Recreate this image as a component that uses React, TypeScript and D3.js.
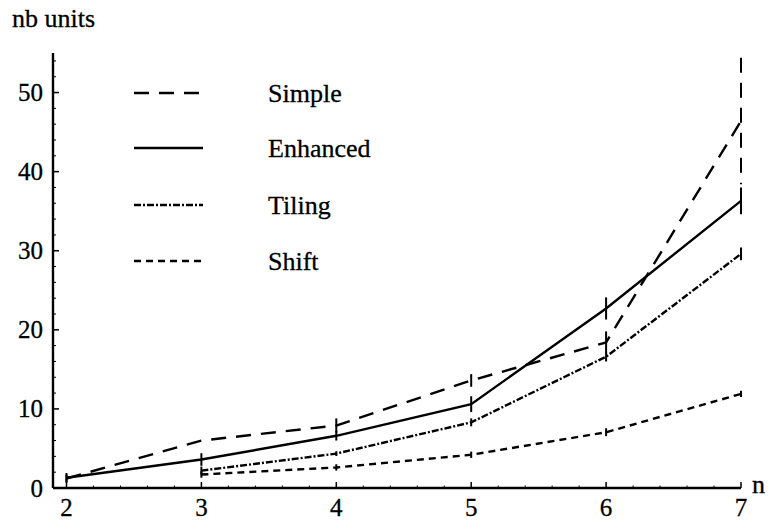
import React from "react";
import * as d3 from "d3";

const xTicks = [2, 3, 4, 5, 6, 7];
const yTicks = [0, 10, 20, 30, 40, 50];

const simpleX = [2, 3, 4, 5, 6, 7];
const simpleY = [1.2, 6.0, 7.9, 13.6, 18.4, 46.4];
const simpleErr = [0.5, 0, 0.9, 0.8, 1.4, 8.0];

const enhancedX = [2, 3, 4, 5, 6, 7];
const enhancedY = [1.3, 3.6, 6.6, 10.6, 22.7, 36.3];
const enhancedErr = [0.6, 0.8, 0.6, 1.0, 1.4, 1.7];

const tilingX = [3, 4, 5, 6, 7];
const tilingY = [2.2, 4.35, 8.3, 16.6, 29.6];
const tilingErr = [0.5, 0.3, 0.5, 0.6, 0.8];

const shiftX = [3, 4, 5, 6, 7];
const shiftY = [1.7, 2.6, 4.2, 7.05, 11.9];
const shiftErr = [0.4, 0.4, 0.4, 0.5, 0.4];

const seriesNames = ["Simple", "Enhanced", "Tiling", "Shift"];

const W = 769;
const H = 523;
const FONT = "Liberation Serif";

export default function App() {
  const x = d3.scaleLinear().domain([1.9, 7]).range([53, 741]);
  const y = d3.scaleLinear().domain([0, 55]).range([488, 53]);

  const series = [
    { name: seriesNames[0], xs: simpleX, ys: simpleY, err: simpleErr, dash: "15,10" },
    { name: seriesNames[1], xs: enhancedX, ys: enhancedY, err: enhancedErr, dash: "" },
    { name: seriesNames[2], xs: tilingX, ys: tilingY, err: tilingErr, dash: "7,2,2,2" },
    { name: seriesNames[3], xs: shiftX, ys: shiftY, err: shiftErr, dash: "7,5" },
  ];

  const line = d3
    .line<[number, number]>()
    .x((d) => x(d[0]))
    .y((d) => y(d[1]));

  const minorY = d3.range(0, 55.01, 2).filter((v) => v % 10 !== 0);
  const minorX = d3.range(2, 7.001, 0.2).filter((v) => Math.abs(v - Math.round(v)) > 0.01);

  const legendY = [93, 148, 205, 261];

  return (
    <svg width={W} height={H} style={{ display: "block", position: "absolute", left: 0, top: 0 }}>
      <rect width={W} height={H} fill="#fff" />
      <line x1={x(1.9)} x2={x(7)} y1={y(0)} y2={y(0)} stroke="#000" strokeWidth={2.4} />
      <line x1={x(1.9)} x2={x(1.9)} y1={y(0)} y2={y(55)} stroke="#000" strokeWidth={2.4} />
      {yTicks.map((t) => (
        <g key={"yt" + t}>
          <line x1={x(1.9)} x2={x(1.9) + 6} y1={y(t)} y2={y(t)} stroke="#000" strokeWidth={1.5} />
          <text x={43} y={y(t) + 8.5} textAnchor="end" fontFamily={FONT} fontSize={25} stroke="#000" strokeWidth={0.3}>
            {t}
          </text>
        </g>
      ))}
      {minorY.map((t) => (
        <line key={"ym" + t} x1={x(1.9)} x2={x(1.9) + 3} y1={y(t)} y2={y(t)} stroke="#000" strokeWidth={1} />
      ))}
      {xTicks.map((t) => (
        <g key={"xt" + t}>
          <line x1={x(t)} x2={x(t)} y1={y(0)} y2={y(0) - 6} stroke="#000" strokeWidth={1.5} />
          <text x={x(t)} y={516} textAnchor="middle" fontFamily={FONT} fontSize={25} stroke="#000" strokeWidth={0.3}>
            {t}
          </text>
        </g>
      ))}
      {minorX.map((t) => (
        <line key={"xm" + t} x1={x(t)} x2={x(t)} y1={y(0)} y2={y(0) - 2.5} stroke="#000" strokeWidth={1} />
      ))}
      <text x={12} y={27} fontFamily={FONT} fontSize={26} stroke="#000" strokeWidth={0.3}>
        nb units
      </text>
      <text x={752} y={493} fontFamily={FONT} fontSize={26} stroke="#000" strokeWidth={0.3}>
        n
      </text>

      {series.map((s) => {
        const pts = s.xs.map((v, i) => [v, s.ys[i]] as [number, number]);
        return (
          <g key={s.name}>
            <path d={line(pts) || ""} fill="none" stroke="#000" strokeWidth={2.4} strokeDasharray={s.dash || undefined} />
            {s.xs.map((v, i) =>
              s.err[i] > 0 ? (
                <line
                  key={i}
                  x1={x(v)}
                  x2={x(v)}
                  y1={y(s.ys[i] + s.err[i])}
                  y2={y(s.ys[i] - s.err[i])}
                  stroke="#000"
                  strokeWidth={2}
                  strokeDasharray={s.err[i] > 3 ? s.dash : undefined}
                />
              ) : null
            )}
          </g>
        );
      })}

      {series.map((s, i) => (
        <g key={"lg" + s.name}>
          <line x1={134} x2={203} y1={legendY[i]} y2={legendY[i]} stroke="#000" strokeWidth={2.4} strokeDasharray={s.dash || undefined} />
          <text x={268} y={legendY[i] + 8.5} fontFamily={FONT} fontSize={26} stroke="#000" strokeWidth={0.3}>
            {s.name}
          </text>
        </g>
      ))}
    </svg>
  );
}
